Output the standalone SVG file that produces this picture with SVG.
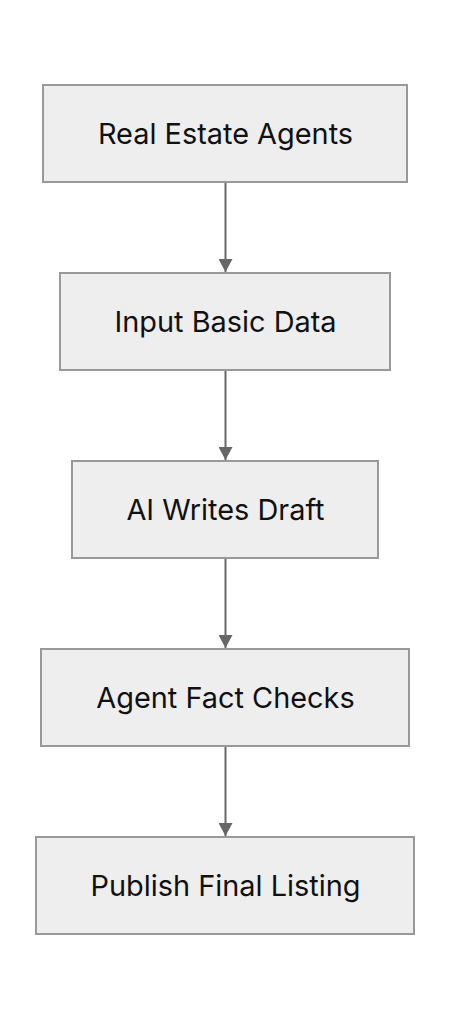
<svg xmlns="http://www.w3.org/2000/svg" width="452" height="1020" viewBox="0 0 452 1020">
<style>
.node rect{fill:#eeeeee;stroke:#999999;stroke-width:2}
.node text{font-family:Inter,"Liberation Sans",sans-serif;font-size:28.9px;fill:#111111;text-anchor:middle;dominant-baseline:central}
.edge{stroke:#666666;stroke-width:2;fill:none;marker-end:url(#arr)}
</style>
<defs>
<marker id="arr" markerWidth="13" markerHeight="14" refX="13" refY="7" orient="auto" markerUnits="userSpaceOnUse" viewBox="0 0 13 14">
<path d="M0,0 L13,7 L0,14 Z" fill="#666666"/>
</marker>
</defs>
<rect width="452" height="1020" fill="#ffffff"/>
<g id="connectors">
<line class="edge" x1="225.5" y1="183" x2="225.5" y2="272"/>
<line class="edge" x1="225.5" y1="371" x2="225.5" y2="460"/>
<line class="edge" x1="225.5" y1="559" x2="225.5" y2="648"/>
<line class="edge" x1="225.5" y1="747" x2="225.5" y2="836"/>
</g>
<g id="n1" class="node"><rect x="43" y="85" width="364" height="97"/><text x="225.5" y="133.5">Real Estate Agents</text></g>
<g id="n2" class="node"><rect x="60" y="273" width="330" height="97"/><text x="225.5" y="321.5">Input Basic Data</text></g>
<g id="n3" class="node"><rect x="72" y="461" width="306" height="97"/><text x="225.5" y="509.5">AI Writes Draft</text></g>
<g id="n4" class="node"><rect x="41" y="649" width="368" height="97"/><text x="225.5" y="697.5">Agent Fact Checks</text></g>
<g id="n5" class="node"><rect x="36" y="837" width="378" height="97"/><text x="225.5" y="885.5">Publish Final Listing</text></g>
</svg>
